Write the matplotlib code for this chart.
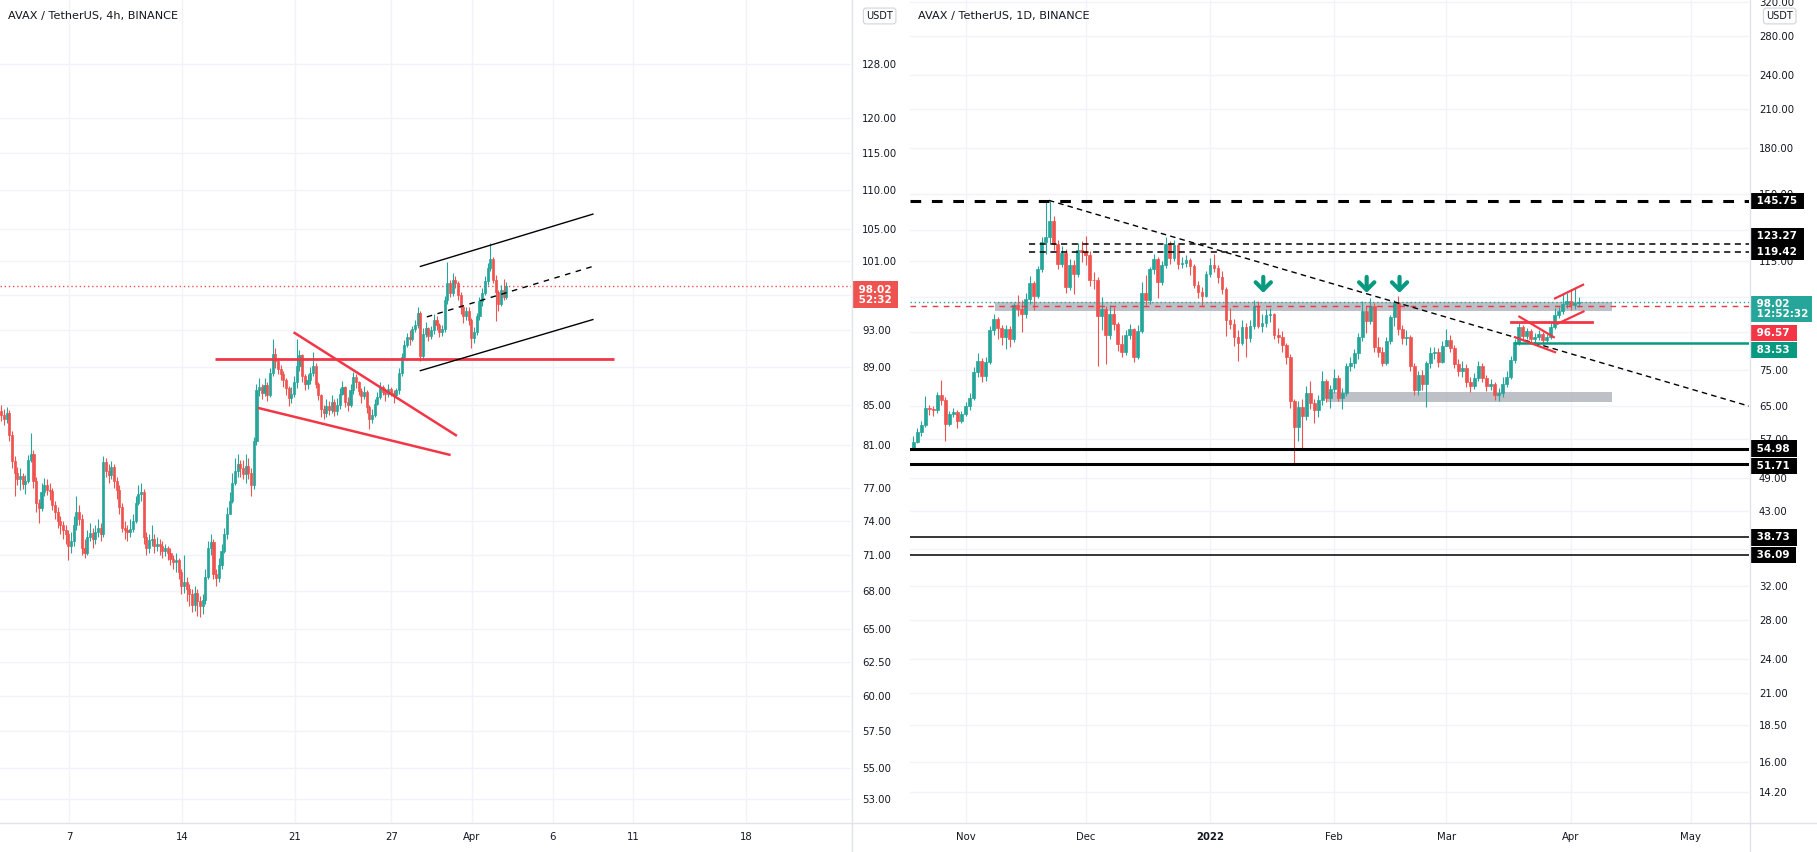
import numpy as np
import matplotlib
matplotlib.use("Agg")
import matplotlib.pyplot as plt
from matplotlib.lines import Line2D
from matplotlib.ticker import NullLocator

UP = '#26A69A'
DOWN = '#EF5350'
RED = '#F23645'
TEAL = '#089981'
GRID = '#F0F3FA'
TXT = '#131722'
BORDER = '#E0E3EB'

# ---------------- 4h chart (x = days from Mar 7) ----------------
h4_start = -4.2
h4_open0 = 84.4
h4_close = [
    84.0, 83.6, 84.2, 82.0, 79.5, 78.4,
    77.8, 78.1, 77.3, 77.6, 79.6, 80.2,
    77.6, 75.6, 75.1, 76.6, 77.2, 76.8,
    76.7, 75.4, 74.8, 74.0, 73.6, 73.2,
    72.8, 71.8, 72.2, 73.6, 74.8, 74.2,
    71.6, 71.2, 72.6, 72.9, 72.4, 73.0,
    73.4, 72.8, 79.4, 78.6, 78.2, 78.9,
    77.6, 76.8, 75.2, 73.4, 73.2, 73.0,
    73.3, 74.0, 75.6, 76.4, 76.6, 72.6,
    71.6, 72.3, 72.4, 71.8, 72.0, 71.8,
    71.4, 71.6, 71.2, 70.7, 70.4, 70.6,
    69.6, 68.4, 68.8, 68.2, 67.8, 66.9,
    67.9, 67.2, 66.8, 67.3, 69.2, 71.6,
    72.1, 69.4, 69.1, 70.2, 71.4, 72.8,
    74.6, 75.8, 77.4, 78.6, 79.2, 78.8,
    78.3, 79.0, 78.4, 77.2, 81.4, 86.6,
    86.9, 86.3, 87.1, 86.0, 88.4, 90.4,
    89.6, 88.8, 88.2, 87.6, 86.8, 85.7,
    86.2, 87.4, 89.1, 90.3, 88.0, 87.2,
    87.6, 88.4, 89.1, 87.2, 86.0, 84.6,
    84.2, 84.9, 84.5, 85.3, 84.4, 85.0,
    86.2, 86.9, 85.3, 85.0, 86.6, 87.9,
    87.4, 86.5, 85.9, 86.4, 84.8, 83.6,
    84.0, 85.1, 85.8, 86.9, 86.4, 86.2,
    86.7, 86.3, 86.0, 86.6, 88.4, 90.1,
    91.4, 92.2, 92.0, 93.1, 93.6, 95.0,
    90.2, 92.6, 93.2, 92.4, 93.0, 94.2,
    93.6, 92.8, 93.1, 96.4, 98.4, 97.2,
    98.8, 98.4, 97.0, 95.6, 94.6, 95.2,
    94.2, 92.1, 92.8, 94.6, 96.3, 97.2,
    98.6, 100.2, 101.3, 98.8, 97.4, 96.0,
    97.6, 96.8, 98.02]
h4_high = [
    85.0, 84.6, 84.8, 84.5, 82.4, 80.0,
    78.9, 78.8, 78.4, 78.2, 80.1, 82.2,
    80.6, 78.0, 76.0, 77.4, 77.9, 77.8,
    77.4, 77.0, 75.8, 75.2, 74.4, 74.0,
    73.6, 73.2, 73.0, 74.4, 76.2, 75.4,
    74.6, 72.4, 73.2, 73.8, 73.4, 73.6,
    74.2, 73.8, 80.0, 79.8, 79.2, 79.5,
    79.2, 78.0, 77.2, 75.6, 74.0, 73.6,
    74.2, 74.6, 76.2, 77.2, 77.4, 76.9,
    73.0, 72.8, 73.6, 72.8, 72.6, 72.4,
    72.2, 72.0, 71.8, 71.6, 71.0, 71.2,
    70.8, 69.8, 71.0, 69.2, 68.6, 68.2,
    68.4, 68.2, 67.6, 67.8, 69.8, 72.2,
    72.8, 72.4, 69.8, 70.8, 72.0, 73.4,
    75.2, 76.6, 78.4, 79.8, 80.2, 79.6,
    79.6, 80.2, 79.8, 78.8, 81.8, 87.2,
    87.8, 87.2, 87.8, 87.4, 88.9, 92.0,
    91.0, 89.8, 89.2, 88.6, 87.8, 87.0,
    86.9, 88.0, 92.0, 90.8, 90.4, 88.2,
    88.2, 89.0, 90.6, 89.4, 87.4, 86.2,
    85.0, 85.6, 85.4, 86.0, 85.6, 85.7,
    86.8, 87.5, 87.0, 85.8, 87.2, 88.5,
    88.2, 87.5, 86.8, 87.0, 86.6, 85.0,
    84.6, 85.6, 86.4, 87.4, 87.1, 86.8,
    87.2, 86.9, 86.6, 86.8, 88.9, 90.5,
    91.9, 92.7, 93.0, 93.5, 94.2, 95.6,
    95.2, 93.2, 93.9, 93.4, 93.5, 94.8,
    94.6, 93.8, 93.6, 96.9, 100.9, 98.8,
    99.6, 99.2, 98.6, 97.4, 95.8, 95.6,
    95.6, 94.4, 93.4, 95.0, 96.8, 97.8,
    99.2, 100.8, 103.3, 101.6, 99.4, 97.6,
    98.2, 98.9, 98.5]
h4_low = [
    83.4, 83.0, 83.2, 81.4, 78.8, 76.2,
    77.2, 76.8, 76.9, 76.4, 77.4, 79.4,
    77.0, 74.8, 73.8, 74.9, 76.2, 76.3,
    75.9, 75.0, 74.2, 73.4, 72.8, 72.4,
    72.0, 70.6, 71.2, 71.8, 73.2, 73.6,
    71.0, 70.8, 71.0, 72.2, 71.6, 72.0,
    72.6, 72.2, 72.6, 78.0, 77.4, 77.8,
    77.0, 76.0, 74.6, 73.0, 72.4, 72.2,
    72.6, 73.0, 73.8, 75.4, 75.8, 72.0,
    71.0, 71.2, 71.8, 71.2, 71.4, 71.0,
    70.8, 70.9, 70.6, 70.2, 69.8, 69.6,
    69.0, 67.8, 67.9, 67.2, 66.8, 66.3,
    66.4, 66.0, 65.9, 66.2, 67.0, 69.0,
    71.0, 69.0, 68.4, 68.8, 69.8, 71.2,
    72.4, 74.8, 75.6, 77.2, 78.0, 78.0,
    77.8, 77.4, 77.8, 76.2, 76.9, 81.0,
    85.9, 85.6, 85.9, 85.4, 85.8, 88.0,
    88.9, 88.2, 87.6, 86.9, 86.0, 84.9,
    85.2, 85.8, 86.8, 88.6, 87.4, 86.6,
    86.7, 87.2, 88.0, 86.8, 85.5, 83.8,
    83.6, 83.8, 84.0, 84.2, 83.9, 84.0,
    84.6, 86.0, 84.8, 84.4, 84.8, 86.2,
    86.8, 86.0, 85.2, 85.6, 84.2, 82.6,
    83.2, 83.8, 85.0, 85.6, 86.0, 85.4,
    85.8, 85.9, 85.2, 85.8, 86.2, 88.0,
    89.8, 91.2, 91.4, 91.8, 92.8, 93.2,
    89.6, 90.0, 92.2, 91.8, 92.0, 92.6,
    93.0, 92.2, 92.4, 92.8, 96.0, 96.8,
    96.9, 97.8, 96.4, 94.8, 93.8, 94.2,
    93.6, 91.0, 91.6, 92.5, 94.2, 95.8,
    97.0, 98.2, 99.8, 98.4, 94.0, 95.2,
    95.8, 96.4, 96.6]

h4_xticks = [0, 7, 14, 20, 25, 30, 35, 42]
h4_xlabels = ['7', '14', '21', '27', 'Apr', '6', '11', '18']
h4_yticks = [53, 55, 57.5, 60, 62.5, 65, 68, 71, 74, 77, 81, 85, 89, 93,
             101, 105, 110, 115, 120, 128]
h4_grid_only = [97]   # grid level whose label sits under the price tag

# drawings on the 4h chart: (day, price) pairs
h4_flat = [(9.05, 89.9), (33.8, 89.9)]
h4_wedge_top = [(14.0, 92.7), (24.0, 82.0)]
h4_wedge_bottom = [(11.8, 84.7), (23.6, 80.1)]
h4_chan_top = [(21.8, 100.4), (32.5, 106.9)]
h4_chan_mid = [(22.2, 94.5), (32.5, 100.4)]
h4_chan_bottom = [(21.8, 88.6), (32.5, 94.2)]

# ---------------- 1D chart (x = days from Nov 1, 2021) ----------------
d1_start = -13
d1_open0 = 55.2
d1_close = [
    56.5, 58.8, 60.3, 64.6, 64.2, 64.0, 67.8, 66.6, 60.6, 63.0, 63.6, 61.2, 63.0,
    65.0, 67.2, 74.3, 77.8, 73.2, 77.5, 87.8, 91.5, 88.5, 85.2, 88.0, 84.6, 96.8, 95.5, 93.4,
    99.0, 105.8, 100.4, 111.8, 124.0, 126.6, 135.0, 123.0, 114.0, 119.0, 104.0, 113.5, 109.6, 120.5, 119.2,
    118.0, 107.0, 106.8, 92.7, 95.2, 86.0, 93.5, 90.0, 83.0, 80.4, 86.0, 88.0, 79.0, 87.3, 101.7,
    98.6, 111.5, 116.0, 106.0, 113.5, 123.3, 116.5, 122.5, 114.0, 114.3, 115.5, 113.0, 104.7, 102.0, 100.5,
    109.6, 113.4, 112.0, 108.0, 103.0, 91.2, 90.0, 85.5, 83.3, 88.8, 85.0, 89.0, 96.5, 89.3, 90.2,
    93.0, 93.4, 86.2, 85.5, 82.7, 79.0, 66.2, 59.9, 64.8, 62.5, 68.4, 65.7, 64.0, 66.5, 71.8,
    67.0, 69.5, 72.5, 67.0, 68.5, 76.0, 77.0, 80.0, 85.3, 94.7, 91.0, 96.5, 82.0, 80.5, 77.0,
    84.0, 92.5, 97.5, 88.0, 85.0, 85.5, 76.1, 69.3, 73.5, 71.0, 77.0, 80.1, 80.5, 77.5, 82.5,
    84.5, 81.8, 76.6, 74.7, 75.5, 71.5, 70.3, 72.5, 76.1, 72.6, 70.4, 71.0, 68.0, 68.5, 71.0,
    73.0, 78.0, 83.6, 88.8, 85.6, 87.5, 84.6, 85.5, 86.3, 84.2, 85.5, 88.8, 93.2, 94.7, 97.3,
    98.2, 96.8, 97.5, 98.02]
d1_high = [
    57.8, 59.6, 61.2, 67.6, 65.4, 65.0, 68.6, 72.0, 67.4, 63.8, 64.4, 64.0, 63.8,
    66.0, 68.4, 75.8, 80.2, 78.6, 78.8, 89.2, 93.4, 92.2, 89.6, 89.4, 89.0, 97.6, 100.8, 98.6,
    101.4, 108.4, 106.6, 113.0, 126.4, 146.5, 145.8, 137.4, 125.2, 122.0, 121.0, 116.2, 115.6, 123.8, 124.6,
    127.0, 119.6, 110.4, 108.0, 99.8, 96.4, 96.8, 96.0, 90.6, 86.2, 87.6, 89.8, 88.6, 89.4, 106.0,
    109.0, 112.6, 118.4, 116.8, 115.2, 126.8, 124.6, 125.0, 123.6, 116.8, 117.8, 116.6, 114.0, 106.4, 103.8,
    110.6, 116.4, 118.2, 113.4, 110.8, 104.0, 95.6, 91.8, 87.6, 91.4, 90.2, 91.2, 98.6, 98.2, 93.6,
    95.4, 95.6, 94.0, 88.4, 87.4, 83.4, 79.8, 66.8, 66.4, 66.8, 70.4, 71.8, 66.8, 68.0, 74.6,
    72.4, 70.6, 75.2, 73.4, 69.8, 77.0, 79.0, 81.4, 86.6, 98.4, 96.6, 99.4, 97.6, 85.4, 82.0,
    85.4, 93.2, 98.8, 100.4, 89.6, 87.6, 86.0, 77.0, 74.8, 75.0, 77.8, 82.2, 82.0, 81.6, 84.0,
    88.0, 86.2, 82.8, 78.2, 77.8, 76.6, 72.8, 74.0, 77.6, 77.0, 73.6, 72.2, 71.6, 69.8, 72.8,
    74.6, 79.2, 84.8, 90.4, 89.4, 88.6, 88.2, 86.8, 87.6, 87.0, 86.4, 90.2, 95.6, 96.2, 101.2,
    101.4, 103.0, 103.4, 99.8]
d1_low = [
    54.6, 56.2, 57.8, 59.8, 62.8, 62.6, 63.2, 65.4, 56.6, 60.0, 62.2, 59.6, 60.8,
    62.4, 64.0, 66.6, 72.8, 71.6, 71.8, 76.8, 86.2, 84.6, 82.8, 81.4, 82.2, 83.8, 92.6, 87.0,
    92.0, 97.4, 94.8, 99.6, 110.4, 118.2, 123.6, 120.4, 111.8, 112.6, 101.6, 102.8, 101.0, 108.0, 114.6,
    113.2, 104.2, 103.2, 76.2, 87.8, 76.6, 84.8, 87.6, 80.8, 78.8, 79.4, 84.6, 77.4, 78.2, 86.8,
    96.8, 97.2, 109.4, 99.4, 104.8, 112.0, 113.8, 115.0, 111.6, 112.0, 112.6, 109.2, 103.4, 99.6, 96.4,
    99.8, 108.2, 110.4, 105.6, 101.2, 85.8, 88.2, 82.4, 77.8, 82.6, 78.8, 83.8, 88.0, 88.4, 87.0,
    88.8, 90.6, 84.8, 83.4, 80.6, 76.8, 64.6, 51.5, 56.6, 55.2, 61.6, 64.2, 60.8, 62.2, 65.4,
    66.0, 64.6, 68.4, 66.2, 64.2, 67.6, 74.6, 75.6, 78.2, 84.0, 86.6, 89.8, 80.4, 79.0, 76.0,
    76.4, 83.0, 89.2, 86.2, 83.2, 82.6, 74.6, 68.0, 67.8, 69.4, 64.8, 75.6, 78.2, 75.8, 77.0,
    82.4, 80.6, 75.4, 73.2, 73.0, 70.0, 68.8, 69.6, 71.8, 71.4, 69.0, 69.2, 66.6, 66.2, 67.4,
    70.2, 72.4, 77.0, 82.6, 84.2, 84.6, 83.4, 83.8, 84.2, 83.2, 83.6, 84.8, 88.2, 92.0, 93.4,
    95.8, 95.0, 95.4, 96.2]

d1_xticks = [0, 30, 61, 92, 120, 151, 181]
d1_xlabels = ['Nov', 'Dec', '2022', 'Feb', 'Mar', 'Apr', 'May']
d1_yticks = [14.2, 16, 18.5, 21, 24, 28, 32, 43, 49, 57, 65, 75,
             115, 150, 180, 210, 240, 280, 320]
d1_grid_only = [37, 87, 100, 130]   # grid levels whose labels sit under tags

# horizontal levels on the 1D chart: (price, linewidth)
d1_solid_levels = [(54.98, 2.2), (51.71, 2.2), (38.73, 1.1), (36.09, 1.1)]
d1_dotted_levels = [123.27, 119.42]
d1_dotted_from = 15.8
d1_ath_level = 145.75
d1_trend = [(20.8, 146.3), (195.5, 65.0)]
d1_zone_top = (7.3, 161.3, 94.7, 98.1)
d1_zone_bottom = (90.2, 161.3, 66.1, 68.8)
d1_arrow_days = [74.3, 100.1, 108.3]
d1_arrow_prices = (108.2, 101.6)
d1_flag_flat = [(136.1, 90.7), (156.3, 90.7)]
d1_flag_lines = [
    [(138.2, 92.5), (146.8, 85.3)],
    [(137.1, 85.3), (147.1, 80.4)],
    [(147.1, 99.4), (154.1, 104.9)],
    [(147.8, 90.0), (154.2, 94.4)],
]
d1_support = (137.1, 83.53)
last_price = 98.02
d1_red_level = 96.57


def draw_candles(ax, x, opens, highs, lows, closes, width):
    o = np.asarray(opens, float)
    c = np.asarray(closes, float)
    h = np.maximum(np.asarray(highs, float), np.maximum(o, c))
    l = np.minimum(np.asarray(lows, float), np.minimum(o, c))
    col = np.where(c >= o, UP, DOWN)
    ax.vlines(x, l, h, colors=col, lw=0.8, zorder=3)
    ax.bar(x, np.abs(c - o), width=width, bottom=np.minimum(o, c),
           color=col, edgecolor=col, lw=0.5, zorder=4)


def price_tag(ax, price, text, bg, dy=0):
    ax.annotate(text, xy=(1, price), xycoords=('axes fraction', 'data'),
                xytext=(3, dy), textcoords='offset points', ha='left', va='center',
                fontsize=7.5, fontweight='bold', color='white', linespacing=1.05,
                bbox=dict(boxstyle='square,pad=0.3', fc=bg, ec='none'),
                annotation_clip=False, zorder=20)


def style_axis(ax, yticks, grid_only, ylim, xticks, xlabels, xlim, ypad):
    ax.set_yscale('log')
    ax.set_ylim(*ylim)
    ax.set_xlim(*xlim)
    ax.yaxis.tick_right()
    ax.set_yticks(yticks)
    ax.set_yticklabels([f'{t:.2f}' for t in yticks])
    ax.yaxis.set_minor_locator(NullLocator())
    ax.set_xticks(xticks)
    ax.set_xticklabels(xlabels)
    ax.tick_params(axis='y', length=0, pad=ypad, labelsize=7.3, labelcolor=TXT)
    ax.tick_params(axis='x', length=0, pad=6.5, labelsize=7.3, labelcolor=TXT)
    ax.grid(True, color=GRID, lw=1)
    for lvl in grid_only:
        ax.axhline(lvl, color=GRID, lw=1, zorder=0.5)
    ax.set_axisbelow(True)
    for s in ax.spines.values():
        s.set_visible(False)


def title_and_unit(ax, title, unit_dx):
    ax.annotate(title, xy=(0, 1), xycoords='axes fraction', xytext=(6, -11.5),
                textcoords='offset points', ha='left', va='center',
                fontsize=8.1, color=TXT)
    ax.annotate('USDT', xy=(1, 1), xycoords='axes fraction', xytext=(unit_dx, -11.5),
                textcoords='offset points', ha='left', va='center', fontsize=7, color=TXT,
                bbox=dict(boxstyle='round,pad=0.3,rounding_size=0.3', fc='white',
                          ec='#D1D4DC', lw=0.8),
                annotation_clip=False)


W, H = 1817, 852
fig = plt.figure(figsize=(W / 100, H / 100), dpi=100, facecolor='white')
ax1 = fig.add_axes([0, 29 / H, 851 / W, 823 / H])
ax2 = fig.add_axes([910 / W, 29 / H, 839 / W, 823 / H])

# ---- left: 4h ----
n4 = len(h4_close)
x4 = h4_start + np.arange(n4) / 6.0
o4 = [h4_open0] + h4_close[:-1]
draw_candles(ax1, x4, o4, h4_high, h4_low, h4_close, 0.13)
style_axis(ax1, h4_yticks, h4_grid_only, (51.5, 138.2), h4_xticks, h4_xlabels,
           (-4.275, 48.51), 8)

ax1.axhline(last_price, color=DOWN, lw=1, ls=(0, (1, 2)), zorder=2)
ax1.plot(*zip(*h4_flat), color=RED, lw=2, solid_capstyle='butt', zorder=5)
ax1.plot(*zip(*h4_wedge_top), color=RED, lw=1.8, zorder=5)
ax1.plot(*zip(*h4_wedge_bottom), color=RED, lw=1.8, zorder=5)
ax1.plot(*zip(*h4_chan_top), color='black', lw=1, zorder=5)
ax1.plot(*zip(*h4_chan_bottom), color='black', lw=1, zorder=5)
ax1.plot(*zip(*h4_chan_mid), color='black', lw=1, ls=(0, (4, 4)), zorder=5)
price_tag(ax1, last_price, ' 98.02 \n 52:32', DOWN, dy=-6)
title_and_unit(ax1, 'AVAX / TetherUS, 4h, BINANCE', 11)

# ---- right: 1D ----
n1 = len(d1_close)
x1 = d1_start + np.arange(n1)
o1 = [d1_open0] + d1_close[:-1]
xlim1 = (-13.85, 195.5)
style_axis(ax2, d1_yticks, d1_grid_only, (12.56, 322.4), d1_xticks, d1_xlabels, xlim1, 7.2)
ax2.get_xticklabels()[2].set_fontweight('bold')

for x0, x1_, lo, hi in [d1_zone_top, d1_zone_bottom]:
    ax2.fill_between([x0, x1_], [lo, lo], [hi, hi], color='#B2B5BE', alpha=0.85, lw=0, zorder=2)

draw_candles(ax2, x1, o1, d1_high, d1_low, d1_close, 0.7)

ax2.axhline(last_price, color=UP, lw=1, ls=(0, (1, 2)), zorder=5)
ax2.axhline(d1_red_level, color=RED, lw=1, ls=(0, (4, 4)), zorder=5)
ax2.axhline(d1_ath_level, color='black', lw=2.2, ls=(0, (3.5, 3.5)), zorder=5)
for lvl in d1_dotted_levels:
    ax2.plot([d1_dotted_from, xlim1[1]], [lvl, lvl], color='black', lw=1.1,
             ls=(0, (4, 3)), zorder=5)
for lvl, lw in d1_solid_levels:
    ax2.axhline(lvl, color='black', lw=lw, zorder=5)
ax2.plot(*zip(*d1_trend), color='black', lw=1, ls=(0, (4, 3)), zorder=5)
ax2.plot([d1_support[0], xlim1[1]], [d1_support[1]] * 2, color=TEAL, lw=1.8, zorder=5)
ax2.plot(*zip(*d1_flag_flat), color=RED, lw=2, zorder=6)
for seg in d1_flag_lines:
    ax2.plot(*zip(*seg), color=RED, lw=1.6, zorder=6)
for d in d1_arrow_days:
    ax2.annotate('', xy=(d, d1_arrow_prices[1]), xytext=(d, d1_arrow_prices[0]),
                 arrowprops=dict(arrowstyle='->,head_length=0.55,head_width=0.55',
                                 color=TEAL, lw=3, shrinkA=0, shrinkB=0), zorder=6)

price_tag(ax2, d1_ath_level, ' 145.75 ', 'black')
price_tag(ax2, 123.27, ' 123.27 ', 'black', dy=5.8)
price_tag(ax2, 119.42, ' 119.42 ', 'black')
price_tag(ax2, last_price, ' 98.02\n 12:52:32', UP, dy=-5)
price_tag(ax2, d1_red_level, ' 96.57 ', RED, dy=-19.5)
price_tag(ax2, d1_support[1], ' 83.53 ', TEAL, dy=-5.5)
price_tag(ax2, 54.98, ' 54.98 ', 'black')
price_tag(ax2, 51.71, ' 51.71 ', 'black', dy=-1.5)
price_tag(ax2, 38.73, ' 38.73 ', 'black')
price_tag(ax2, 36.09, ' 36.09 ', 'black')
title_and_unit(ax2, 'AVAX / TetherUS, 1D, BINANCE', 12.5)

# panel borders
fig.add_artist(Line2D([0, 1], [29 / H, 29 / H], transform=fig.transFigure, color=BORDER, lw=1))
fig.add_artist(Line2D([851.5 / W] * 2, [0, 1], transform=fig.transFigure, color=BORDER, lw=1))
fig.add_artist(Line2D([1749.5 / W] * 2, [0, 1], transform=fig.transFigure, color=BORDER, lw=1))

fig.savefig('out.png', dpi=100, facecolor='white')
